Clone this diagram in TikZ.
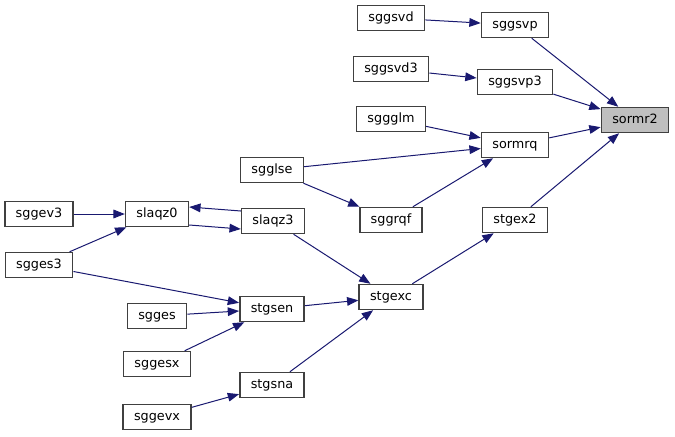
\documentclass[tikz,border=0pt]{standalone}
\usepackage{fontspec}
\setmainfont{DejaVu Sans}
\usetikzlibrary{arrows.meta}

\definecolor{edgeblue}{HTML}{191970}
\definecolor{boxgray}{HTML}{404040}
\definecolor{rootfill}{HTML}{BFBFBF}

\begin{document}
\begin{tikzpicture}[x=0.75pt, y=-0.75pt,
  fn/.style={draw=boxgray, line width=1.1pt, fill=white, inner xsep=8.2pt,
    inner ysep=0pt, minimum height=18.75pt, text height=7.2pt, text depth=2pt,
    font=\fontsize{9.6}{11}\selectfont},
  root/.style={fn, fill=rootfill},
  call/.style={draw=edgeblue, line width=0.75pt,
    -{Triangle[length=8.5pt, width=6.5pt]}}]

  \useasboundingbox (0,0) rectangle (675,436);

  % Target function
  \node[root] (sormr2) at (635,120) {sormr2};

  % Callers, right column
  \node[fn] (sggsvp)  at (515,25)  {sggsvp};
  \node[fn] (sggsvp3) at (515,82)  {sggsvp3};
  \node[fn] (sormrq)  at (515,145) {sormrq};
  \node[fn] (stgex2)  at (515,220) {stgex2};

  % Next column
  \node[fn] (sggsvd)  at (391,18)  {sggsvd};
  \node[fn] (sggsvd3) at (391,69)  {sggsvd3};
  \node[fn] (sggglm)  at (391,119) {sggglm};
  \node[fn] (sggrqf)  at (391,220) {sggrqf};
  \node[fn] (stgexc)  at (391,297) {stgexc};

  % Middle column
  \node[fn] (sgglse)  at (272,170) {sgglse};
  \node[fn] (slaqz3)  at (273,221) {slaqz3};
  \node[fn] (stgsen)  at (272,309) {stgsen};
  \node[fn] (stgsna)  at (272,385) {stgsna};

  % Left columns
  \node[fn] (slaqz0)  at (157,214) {slaqz0};
  \node[fn] (sgges)   at (157,316) {sgges};
  \node[fn] (sggesx)  at (157,364) {sggesx};
  \node[fn] (sggevx)  at (157,417) {sggevx};
  \node[fn] (sggev3)  at (39,214)  {sggev3};
  \node[fn] (sgges3)  at (39,265)  {sgges3};

  % Calls into sormr2
  \draw[call] (sggsvp) -- (sormr2);
  \draw[call] (sggsvp3) -- (sormr2);
  \draw[call] (sormrq) -- (sormr2);
  \draw[call] (stgex2) -- (sormr2);

  % Upper branch
  \draw[call] (sggsvd) -- (sggsvp);
  \draw[call] (sggsvd3) -- (sggsvp3);
  \draw[call] (sggglm) -- (sormrq);
  \draw[call] (sgglse) -- (sormrq);
  \draw[call] (sggrqf) -- (sormrq);
  \draw[call] (sgglse) -- (sggrqf);

  % Lower branch
  \draw[call] (stgexc) -- (stgex2);
  \draw[call] (slaqz3) -- (stgexc);
  \draw[call] (stgsen) -- (stgexc);
  \draw[call] (stgsna) -- (stgexc);
  \draw[call] (sgges3) -- (stgsen);
  \draw[call] (sgges) -- (stgsen);
  \draw[call] (sggesx) -- (stgsen);
  \draw[call] (sggevx) -- (stgsna);

  % slaqz0 / slaqz3 loop
  \draw[call] (sggev3) -- (slaqz0);
  \draw[call] (sgges3) -- (slaqz0);
  \draw[call] ([yshift=-8.25pt]slaqz0.east) -- ([yshift=-6pt]slaqz3.west);
  \draw[call] ([yshift=7.5pt]slaqz3.west) -- ([yshift=5.25pt]slaqz0.east);

\end{tikzpicture}
\end{document}
